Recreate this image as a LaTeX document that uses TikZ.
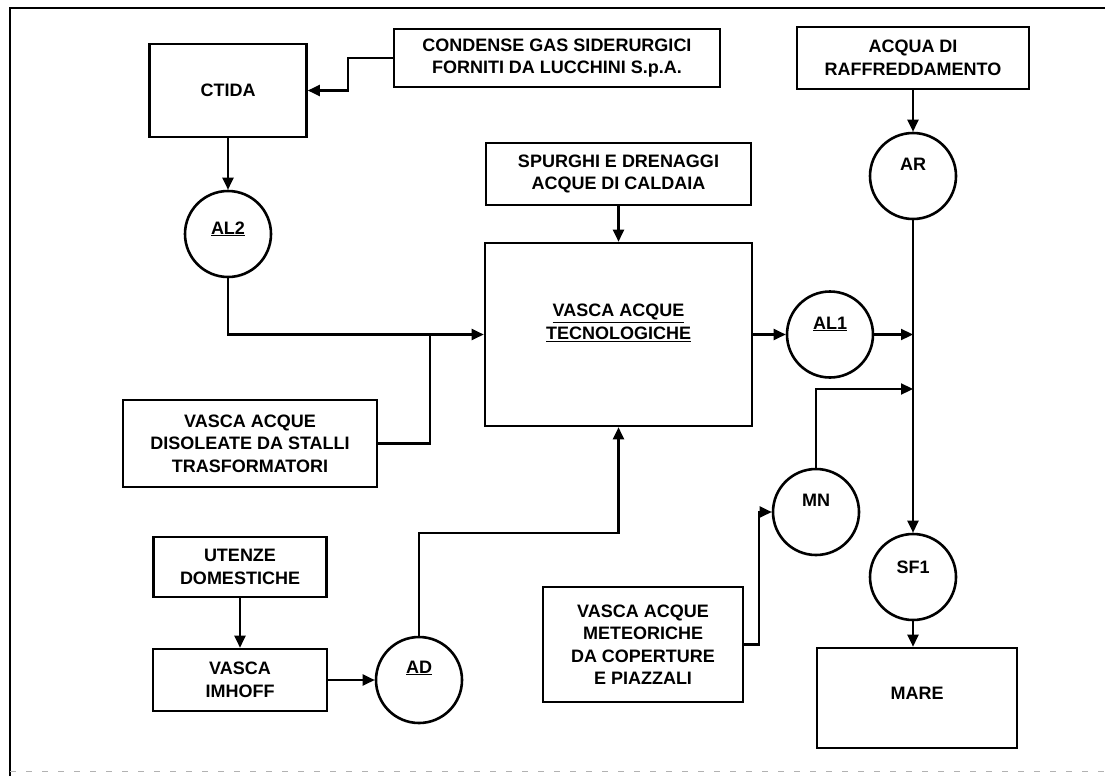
\documentclass[tikz,border=0pt]{standalone}
\usepackage{fontspec}
\setmainfont{Liberation Sans}
\usetikzlibrary{arrows.meta}
\tikzset{
  box/.style={draw, line width=2.6pt, rectangle, inner sep=0pt, align=center,
    font=\fontsize{18}{22.5}\selectfont\bfseries},
  circ/.style={draw, line width=2.6pt, circle, minimum size=86pt, inner sep=0pt},
  clab/.style={font=\fontsize{18}{22.5}\selectfont\bfseries},
  conn/.style={line width=2.2pt},
  arr/.style={conn, -{Triangle[length=12pt,width=11pt]}},
}
\begin{document}
\begin{tikzpicture}[x=1pt,y=-1pt]
\useasboundingbox (0,0) rectangle (1107,776);
% frame
\draw[line width=1.8pt] (10,776) -- (10,8) -- (1105,8);
\draw[line width=0.8pt, gray!60, dash pattern=on 6pt off 10pt] (10,771) -- (1105,771);

% boxes
\node[box, minimum width=326pt, minimum height=58pt] (condense) at (557,58) {CONDENSE GAS SIDERURGICI\\FORNITI DA LUCCHINI S.p.A.};
\node[box, minimum width=157pt, minimum height=93pt] (ctida) at (228,90.5) {CTIDA};
\node[box, minimum width=265pt, minimum height=62pt] (spurghi) at (618.5,174) {SPURGHI E DRENAGGI\\ACQUE DI CALDAIA};
\node[box, minimum width=232pt, minimum height=62pt] (acqua) at (913,58) {ACQUA DI\\RAFFREDDAMENTO};
\node[box, minimum width=267pt, minimum height=183pt] (vasca) at (618.5,334.5) {};
\node[clab, align=center] (vascalab) at (618.5,323) {\underline{VASCA ACQUE}\\\underline{TECNOLOGICHE}};
\node[box, minimum width=254pt, minimum height=87pt] (disol) at (250,443.5) {VASCA ACQUE\\DISOLEATE DA STALLI\\TRASFORMATORI};
\node[box, minimum width=173pt, minimum height=60pt] (utenze) at (240,567) {UTENZE\\DOMESTICHE};
\node[box, minimum width=174pt, minimum height=62pt] (imhoff) at (240,680) {VASCA\\IMHOFF};
\node[box, minimum width=200pt, minimum height=115pt] (meteo) at (643,644.5) {VASCA ACQUE\\METEORICHE\\DA COPERTURE\\E PIAZZALI};
\node[box, minimum width=200pt, minimum height=100pt] (mare) at (917,698) {};
\node[clab] (marelab) at (917,693) {MARE};

% circles
\node[circ] (al2) at (228,234) {};
\node[clab] (al2lab) at (228,229) {\underline{AL2}};
\node[circ] (ar) at (913,176) {};
\node[clab] (arlab) at (913,164) {AR};
\node[circ] (al1) at (830,334.5) {};
\node[clab] (al1lab) at (830,324) {\underline{AL1}};
\node[circ] (mn) at (816,512) {};
\node[clab] (mnlab) at (816,500) {MN};
\node[circ] (sf1) at (913,577) {};
\node[clab] (sf1lab) at (913,567) {SF1};
\node[circ] (ad) at (419,680) {};
\node[clab] (adlab) at (419,668) {\underline{AD}};

% junction coordinates
\coordinate (j1) at (430,334.5);
\coordinate (j2) at (913,389);

% connectors
\draw[arr] (condense.west) -- ++(-45,0) |- (ctida.east);
\draw[arr] (ctida.south) -- (al2.north);
\draw[arr] (al2.south) |- (vasca.west);
\draw[conn] (disol.east) -| (j1);
\draw[arr] (spurghi.south) -- (vasca.north);
\draw[arr] (acqua.south) -- (ar.north);
\draw[arr] (ar.south) -- (sf1.north);
\draw[arr] (vasca.east) -- (al1.west);
\draw[arr] (al1.east) -- (al1.east -| ar.south);
\draw[arr] (meteo.east) -- ++(15,0) |- (mn.west);
\draw[arr] (mn.north) |- (j2);
\draw[arr] (utenze.south) -- (imhoff.north);
\draw[arr] (imhoff.east) -- (ad.west);
\draw[arr] (ad.north) -- ++(0,-103) -| (vasca.south);
\draw[arr] (sf1.south) -- (sf1.south |- mare.north);
\end{tikzpicture}
\end{document}
